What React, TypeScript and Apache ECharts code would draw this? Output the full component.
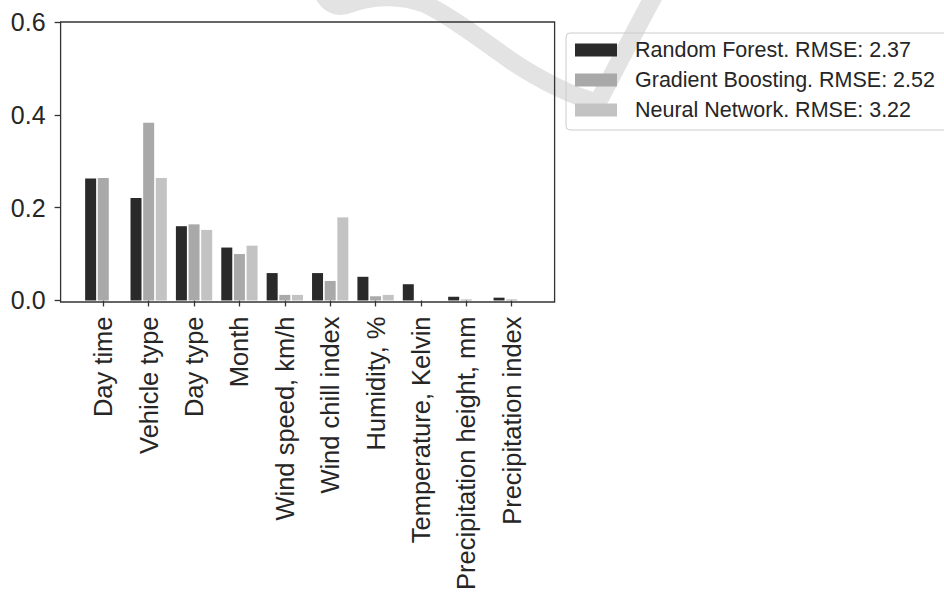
import React, { useEffect, useRef } from "react";
import * as echarts from "echarts";

const categories = [
  "Day time",
  "Vehicle type",
  "Day type",
  "Month",
  "Wind speed, km/h",
  "Wind chill index",
  "Humidity, %",
  "Temperature, Kelvin",
  "Precipitation height, mm",
  "Precipitation index",
];
const seriesNames = [
  "Random Forest. RMSE: 2.37",
  "Gradient Boosting. RMSE: 2.52",
  "Neural Network. RMSE: 3.22",
];
const randomForest = [0.263, 0.221, 0.16, 0.114, 0.059, 0.059, 0.051, 0.035, 0.008, 0.006];
const gradientBoosting = [0.264, 0.383, 0.164, 0.1, 0.012, 0.042, 0.009, 0, 0.002, 0.002];
const neuralNetwork = [0, 0.264, 0.152, 0.118, 0.012, 0.179, 0.012, 0, 0, 0];
const yTicks = [0, 0.2, 0.4, 0.6];
const colors = ["#2a2a2a", "#a9a9a9", "#c3c3c3"];

const FONT = "'Liberation Sans', Arial, sans-serif";
const TEXT = "#262626";
const AXIS = "#333333";

const swooshD =
  "M 320 -14 C 325 2 335 10 350 4 C 370 -4 400 -6 425 4 C 448 15 478 37 510 60 C 540 80 575 98 598 102 C 610 80 630 40 656 -8";

echarts.graphic.registerShape("swoosh", echarts.graphic.extendPath(swooshD, {}) as any);

export default function App() {
  const ref = useRef<HTMLDivElement>(null);
  useEffect(() => {
    document.body.style.margin = "0";
    if (!ref.current) return;
    const chart = echarts.init(ref.current, undefined, { renderer: "svg" });
    const gridLeft = 80.6;
    const gridTop = 22;
    const gridWidth = 453.8;
    const gridHeight = 280;
    const frameLeft = 60.6;
    const frameRight = 554.6;
    const data = [randomForest, gradientBoosting, neuralNetwork];
    chart.setOption({
      animation: false,
      backgroundColor: "#ffffff",
      textStyle: { fontFamily: FONT },
      grid: { left: gridLeft, top: gridTop, width: gridWidth, height: gridHeight, containLabel: false },
      legend: {
        orient: "vertical",
        left: 566,
        top: 33,
        data: seriesNames,
        icon: "rect",
        itemWidth: 42,
        itemHeight: 13,
        itemGap: 6,
        padding: [5, 40, 8, 9],
        borderColor: "#cccccc",
        borderWidth: 1,
        borderRadius: 4,
        textStyle: {
          fontFamily: FONT,
          fontSize: 21.5,
          color: TEXT,
          lineHeight: 24,
          padding: [0, 0, 0, 13],
        },
      },
      xAxis: {
        type: "category",
        data: categories,
        boundaryGap: true,
        axisLine: { show: false },
        axisTick: { show: true, alignWithLabel: true, length: 6, lineStyle: { color: AXIS, width: 1.3 } },
        axisLabel: {
          rotate: 90,
          interval: 0,
          margin: 16,
          fontSize: 25.5,
          fontFamily: FONT,
          color: TEXT,
        },
        splitLine: { show: false },
      },
      yAxis: {
        type: "value",
        min: yTicks[0],
        max: yTicks[yTicks.length - 1],
        interval: yTicks[1] - yTicks[0],
        offset: gridLeft - frameLeft,
        axisLine: { show: false },
        axisTick: { show: true, length: 6, lineStyle: { color: AXIS, width: 1.3 } },
        axisLabel: {
          margin: 15,
          fontSize: 25,
          fontFamily: FONT,
          color: TEXT,
          formatter: (v: number) => v.toFixed(1),
        },
        splitLine: { show: false },
      },
      series: seriesNames.map((name, i) => ({
        name,
        type: "bar",
        data: data[i],
        barGap: "15%",
        barCategoryGap: "20%",
        itemStyle: { color: colors[i] },
        z: 3,
      })),
      graphic: [
        {
          type: "swoosh",
          x: 0,
          y: 0,
          z: 0,
          silent: true,
          style: { fill: "none", stroke: "#e3e3e3", lineWidth: 18, lineCap: "round", lineJoin: "round" },
        },
        {
          type: "rect",
          z: 10,
          silent: true,
          shape: { x: frameLeft, y: gridTop, width: frameRight - frameLeft, height: gridHeight },
          style: { fill: "none", stroke: AXIS, lineWidth: 1.3 },
        },
      ],
    });
    return () => chart.dispose();
  }, []);
  return <div ref={ref} style={{ width: 944, height: 593 }} />;
}
